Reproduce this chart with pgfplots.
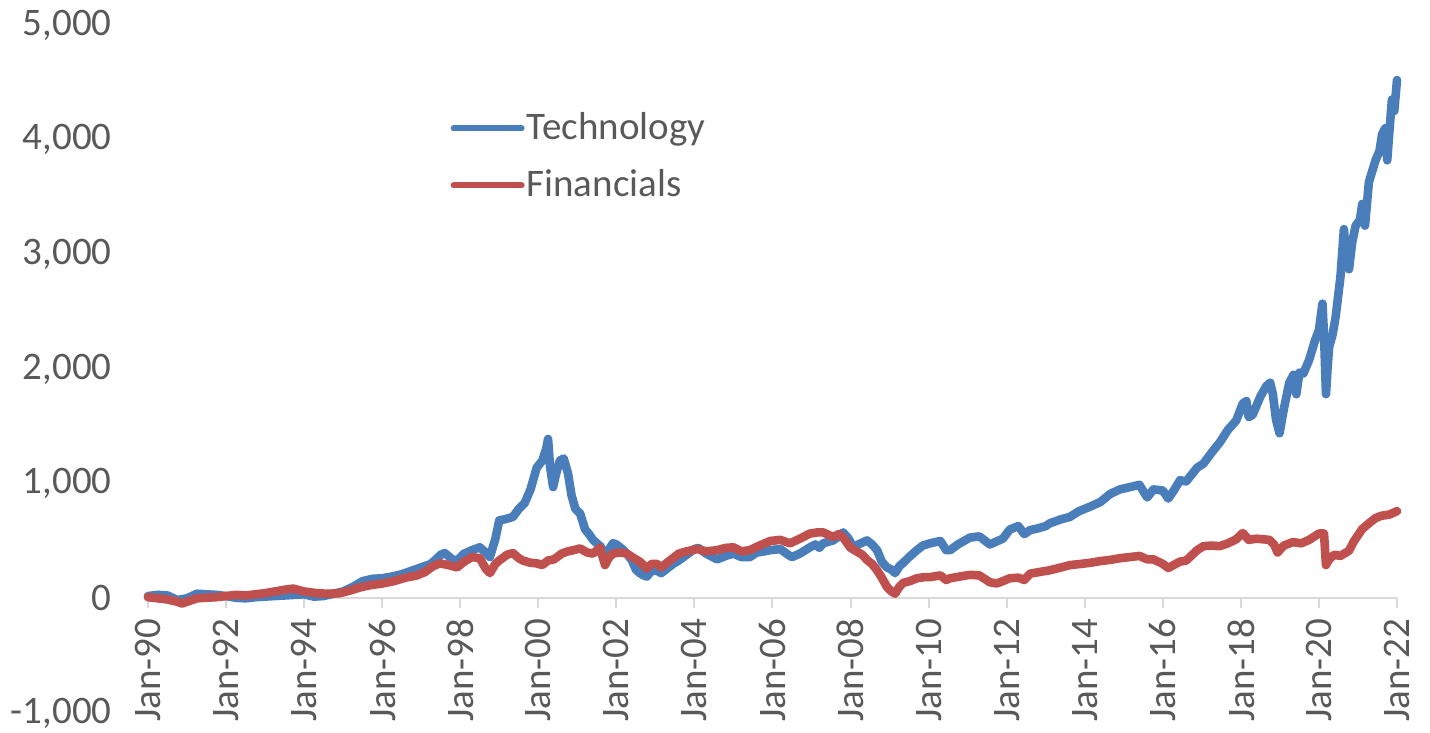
\documentclass[border=0pt]{standalone}
\usepackage{pgfplots}
\pgfplotsset{compat=1.18}
\usepackage{fontspec}
\setmainfont{Carlito}
\definecolor{techblue}{RGB}{74,126,187}
\definecolor{finred}{RGB}{192,80,77}
\definecolor{txtgray}{RGB}{89,89,89}
\definecolor{axgray}{RGB}{217,217,217}
\begin{document}
\fontsize{19.5}{23}\selectfont
\begin{tikzpicture}
\useasboundingbox (-74pt,-10pt) rectangle (641pt,356.5pt);
\begin{axis}[
  at={(0,0)}, anchor=south west,
  scale only axis, width=624.5pt, height=344pt,
  xmin=1990, xmax=2022, ymin=-1000, ymax=5000,
  axis x line=middle, axis y line=left,
  x axis line style={-, draw=axgray, line width=1pt},
  y axis line style={draw=none},
  hide obscured x ticks=false,
  xtick={1990,1992,...,2022},
  xticklabels={Jan-90,Jan-92,Jan-94,Jan-96,Jan-98,Jan-00,Jan-02,Jan-04,Jan-06,Jan-08,Jan-10,Jan-12,Jan-14,Jan-16,Jan-18,Jan-20,Jan-22},
  ytick={-1000,0,...,5000},
  tick align=outside, major tick length=5pt,
  x tick style={draw=axgray, line width=1pt},
  y tick style={draw=none},
  x tick label style={rotate=90, anchor=east, inner sep=0pt, yshift=0pt, xshift=-5pt, text=txtgray, font=\fontsize{19.5}{23}\selectfont},
  y tick label style={anchor=east, inner sep=0pt, xshift=-13pt, text=txtgray, font=\fontsize{19.5}{23}\selectfont},
  /pgf/number format/assume math mode=true,
  /pgf/number format/1000 sep={,},
  legend style={draw=none, fill=none, at={(0.242,0.877)}, anchor=north west,
    font=\fontsize{19.5}{23}\selectfont, text=txtgray, row sep=10pt,
    inner sep=0pt, nodes={inner sep=1pt}},
  legend cell align=left,
  legend image code/.code={\draw[#1, line width=3pt, line cap=round] (0pt,0pt) -- (34pt,0pt);},
  every axis plot/.append style={line join=round, line cap=round},
  clip=false,
]
\addplot[techblue, line width=4.3pt] coordinates {
(1990.00,20) (1990.25,30) (1990.50,25) (1990.75,-15) (1991.00,0) (1991.25,40) (1991.50,35) (1991.75,30)
(1992.00,20) (1992.25,5) (1992.50,0) (1992.75,10) (1993.00,15) (1993.25,20) (1993.50,25) (1993.75,30)
(1994.00,35) (1994.25,15) (1994.50,20) (1994.75,40) (1995.00,60) (1995.25,100) (1995.50,150) (1995.75,170)
(1996.00,175) (1996.25,190) (1996.50,210) (1996.75,240) (1997.00,270) (1997.25,300) (1997.50,380) (1997.60,395)
(1997.80,340) (1997.92,330) (1998.10,390) (1998.30,420) (1998.50,445) (1998.65,400) (1998.76,360) (1998.90,520)
(1999.00,680) (1999.15,690) (1999.35,710) (1999.50,780) (1999.65,830) (1999.80,950) (1999.96,1140) (2000.10,1200)
(2000.20,1300) (2000.25,1390) (2000.30,1150) (2000.38,970) (2000.45,1080) (2000.55,1200) (2000.65,1220) (2000.76,1090)
(2000.85,900) (2000.95,780) (2001.07,740) (2001.20,600) (2001.30,560) (2001.40,510) (2001.50,480) (2001.60,450)
(2001.71,360) (2001.80,420) (2001.91,480) (2002.00,470) (2002.15,430) (2002.27,390) (2002.40,330) (2002.50,250)
(2002.60,220) (2002.70,200) (2002.78,190) (2002.90,240) (2003.04,240) (2003.15,220) (2003.30,260) (2003.45,300)
(2003.60,330) (2003.80,380) (2004.00,430) (2004.10,440) (2004.30,390) (2004.58,340) (2004.80,370) (2005.00,390)
(2005.20,360) (2005.42,360) (2005.60,400) (2005.80,410) (2005.94,420) (2006.20,430) (2006.40,380) (2006.50,360)
(2006.70,390) (2006.96,445) (2007.10,470) (2007.20,440) (2007.30,480) (2007.55,505) (2007.70,540) (2007.81,575)
(2007.95,520) (2008.06,450) (2008.20,470) (2008.42,505) (2008.55,470) (2008.68,420) (2008.80,320) (2008.93,270)
(2009.05,250) (2009.14,220) (2009.25,280) (2009.35,310) (2009.50,360) (2009.70,420) (2009.85,460) (2010.04,480)
(2010.30,500) (2010.45,420) (2010.55,420) (2010.75,470) (2011.06,530) (2011.30,540) (2011.57,470) (2011.70,490)
(2011.90,520) (2012.08,600) (2012.30,630) (2012.45,560) (2012.60,595) (2012.80,610) (2013.00,630) (2013.11,655)
(2013.40,690) (2013.62,710) (2013.85,760) (2014.14,800) (2014.40,840) (2014.65,910) (2014.90,950) (2015.16,970)
(2015.40,990) (2015.60,880) (2015.76,950) (2016.00,940) (2016.14,870) (2016.30,950) (2016.44,1030) (2016.60,1020)
(2016.88,1140) (2017.04,1175) (2017.25,1270) (2017.46,1360) (2017.67,1470) (2017.88,1550) (2018.05,1700) (2018.14,1720)
(2018.20,1580) (2018.30,1600) (2018.50,1760) (2018.65,1850) (2018.75,1880) (2018.82,1780) (2018.90,1560) (2018.99,1440)
(2019.10,1650) (2019.24,1880) (2019.35,1950) (2019.42,1780) (2019.50,1970) (2019.60,1960) (2019.75,2080) (2019.90,2250)
(2020.00,2340) (2020.09,2570) (2020.13,2300) (2020.18,1780) (2020.22,2000) (2020.26,2190) (2020.35,2300) (2020.43,2460)
(2020.55,2800) (2020.64,3220) (2020.70,2950) (2020.77,2870) (2020.85,3100) (2020.94,3250) (2021.05,3300) (2021.11,3440)
(2021.18,3250) (2021.28,3630) (2021.45,3820) (2021.55,3900) (2021.62,4050) (2021.70,4100) (2021.75,3820) (2021.80,4050)
(2021.87,4350) (2021.93,4250) (2022.00,4520)
};
\addlegendentry{Technology}
\addplot[finred, line width=4.3pt] coordinates {
(1990.00,10) (1990.25,0) (1990.50,-10) (1990.75,-30) (1990.87,-45) (1991.00,-30) (1991.25,0) (1991.50,5)
(1991.75,10) (1992.00,20) (1992.25,30) (1992.50,25) (1992.75,35) (1993.00,45) (1993.25,60) (1993.50,75)
(1993.72,85) (1994.00,60) (1994.33,45) (1994.60,40) (1994.92,45) (1995.20,70) (1995.43,95) (1995.70,115)
(1996.02,130) (1996.30,150) (1996.60,180) (1996.89,200) (1997.10,230) (1997.30,280) (1997.48,305) (1997.70,290)
(1997.92,270) (1998.10,320) (1998.30,360) (1998.50,350) (1998.65,260) (1998.76,220) (1998.90,300) (1999.00,330)
(1999.20,380) (1999.35,395) (1999.50,350) (1999.60,330) (1999.80,310) (1999.96,305) (2000.10,290) (2000.25,330)
(2000.40,340) (2000.60,390) (2000.76,410) (2000.90,420) (2001.07,435) (2001.25,400) (2001.40,390) (2001.58,440)
(2001.71,290) (2001.80,350) (2001.91,390) (2002.10,400) (2002.27,390) (2002.45,350) (2002.60,320) (2002.78,260)
(2002.90,300) (2003.04,300) (2003.15,270) (2003.37,330) (2003.60,390) (2003.80,410) (2004.07,430) (2004.30,410)
(2004.58,420) (2004.80,440) (2005.00,445) (2005.20,410) (2005.42,420) (2005.60,450) (2005.94,500) (2006.20,510)
(2006.45,480) (2006.70,520) (2006.96,565) (2007.15,575) (2007.30,575) (2007.55,535) (2007.70,560) (2007.81,530)
(2008.00,440) (2008.15,410) (2008.30,380) (2008.42,335) (2008.55,300) (2008.68,245) (2008.80,180) (2008.93,100)
(2009.05,60) (2009.14,40) (2009.25,100) (2009.35,135) (2009.52,150) (2009.70,175) (2009.90,185) (2010.04,185)
(2010.30,200) (2010.45,160) (2010.55,175) (2010.80,190) (2011.06,205) (2011.30,200) (2011.57,140) (2011.75,130)
(2011.90,150) (2012.08,175) (2012.30,180) (2012.45,160) (2012.60,215) (2012.85,230) (2013.11,245) (2013.40,270)
(2013.62,290) (2013.90,300) (2014.14,310) (2014.40,325) (2014.65,335) (2014.90,350) (2015.16,360) (2015.40,370)
(2015.60,340) (2015.76,340) (2016.00,300) (2016.14,265) (2016.44,320) (2016.60,330) (2016.88,420) (2017.04,455)
(2017.25,460) (2017.46,455) (2017.67,480) (2017.88,515) (2018.05,570) (2018.20,510) (2018.40,520) (2018.73,510)
(2018.85,470) (2018.94,400) (2019.10,460) (2019.33,490) (2019.55,480) (2019.75,510) (2020.00,565) (2020.13,565)
(2020.18,290) (2020.26,340) (2020.39,380) (2020.55,370) (2020.77,415) (2020.90,500) (2021.11,605) (2021.30,660)
(2021.45,700) (2021.60,720) (2021.80,730) (2022.00,760)
};
\addlegendentry{Financials}
\end{axis}
\end{tikzpicture}
\end{document}
